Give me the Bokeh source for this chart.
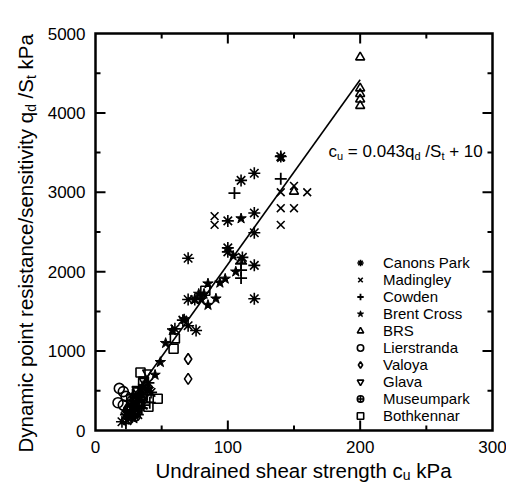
import numpy as np
from bokeh.plotting import figure
from bokeh.models import Range1d, Legend, LegendItem, Label
from bokeh.core.properties import value
from bokeh.embed import file_html
from bokeh.resources import INLINE

# ---------------- data ----------------
x_lim = [0, 300]
y_lim = [0, 5000]
x_ticks = [0, 100, 200, 300]
x_minor = [50, 150, 250]
x_tick_labels = ["0", "100", "200", "300"]
y_ticks = [0, 1000, 2000, 3000, 4000, 5000]
y_minor = [500, 1500, 2500, 3500, 4500]
y_tick_labels = ["0", "1000", "2000", "3000", "4000", "5000"]

canons_cu = [20, 23, 25, 27, 28, 30, 30, 32, 33, 35, 36, 38, 40, 42, 60, 66, 70, 70, 75, 76, 70,
             100, 100, 110, 120, 120, 120, 111, 120, 120, 140, 100]
canons_q = [110, 200, 150, 180, 250, 300, 420, 200, 380, 450, 320, 520, 600, 480, 1280, 1390, 1650, 2170, 1650, 1260, 1320,
            2300, 2640, 3150, 3240, 2740, 2490, 2180, 2080, 1660, 3450, 2250]

madingley_cu = [22, 24, 26, 29, 31, 34, 37, 90, 90, 140, 140, 140, 150, 150, 160]
madingley_q = [180, 120, 200, 330, 260, 500, 400, 2700, 2590, 3000, 2800, 2590, 2800, 3080, 3000]

cowden_cu = [23, 27, 28, 31, 35, 39, 41, 105, 140, 110, 110, 110]
cowden_q = [90, 300, 450, 360, 280, 450, 350, 2990, 3170, 2020, 1920, 2100]

brent_cu = [24, 29, 33, 36, 40, 45, 49, 53, 58, 67, 80, 82, 85, 85, 91, 94, 98, 104, 106, 110, 140, 75, 78]
brent_q = [230, 150, 440, 560, 520, 700, 860, 1100, 1260, 1400, 1650, 1720, 1850, 1580, 1660, 1860, 1910, 2200, 2000,
           2670, 3440, 1650, 1720]

brs_cu = [200, 200, 200, 200, 200, 150, 110, 30, 34, 38]
brs_q = [4700, 4310, 4240, 4170, 4090, 3010, 2140, 380, 320, 580]

lier_cu = [18, 21, 17, 21, 23]
lier_q = [530, 490, 350, 320, 430]

valoya_cu = [70, 70, 24, 38]
valoya_q = [900, 650, 280, 470]

glava_cu = [39, 36, 31]
glava_q = [730, 640, 520]

museum_cu = [26, 30, 32, 35, 28]
museum_q = [260, 180, 310, 420, 380]

both_cu = [34, 47, 40, 32, 36, 27, 30, 59, 60, 83]
both_q = [730, 400, 300, 480, 600, 400, 250, 1030, 1160, 1760]

fit_cu = np.array([20.0, 200.0])          # c_u = 0.043 q_d/S_t + 10
fit_slope, fit_icpt = 0.043, 10.0

series_names = ["Canons Park", "Madingley", "Cowden", "Brent Cross", "BRS",
                "Lierstranda", "Valoya", "Glava", "Museumpark", "Bothkennar"]

# ---------------- geometry (canvas pixels) ----------------
W, H = 506, 484
PX0, PX1, PYB, PYT = 95, 492, 430, 33    # axes box in canvas pixels
SX = (PX1 - PX0) / (x_lim[1] - x_lim[0])
SY = (PYB - PYT) / (y_lim[1] - y_lim[0])
xr = Range1d(x_lim[0] - PX0 / SX, x_lim[1] + (W - PX1) / SX)
yr = Range1d(y_lim[0] - (H - PYB) / SY, y_lim[1] + PYT / SY)

p = figure(width=W, height=H, output_backend="svg", toolbar_location=None,
           x_range=xr, y_range=yr, x_axis_type=None, y_axis_type=None,
           min_border_left=0, min_border_right=0, min_border_top=0, min_border_bottom=0,
           background_fill_color="white", border_fill_color="white")
p.outline_line_color = None
p.xgrid.visible = False
p.ygrid.visible = False

# ---------------- axes box and inward ticks ----------------
MAJ, MIN = 10, 5       # tick lengths in px
p.quad(left=[x_lim[0]], right=[x_lim[1]], bottom=[y_lim[0]], top=[y_lim[1]],
       fill_color=None, line_color="black", line_width=2.5, line_join="miter")


def hticks(xs, length):
    n = len(xs)
    p.segment(x0=xs, y0=[y_lim[0]] * n, x1=xs, y1=[y_lim[0] + length / SY] * n,
              line_color="black", line_width=2)
    p.segment(x0=xs, y0=[y_lim[1]] * n, x1=xs, y1=[y_lim[1] - length / SY] * n,
              line_color="black", line_width=2)


def vticks(ys, length):
    n = len(ys)
    p.segment(x0=[x_lim[0]] * n, y0=ys, x1=[x_lim[0] + length / SX] * n, y1=ys,
              line_color="black", line_width=2)
    p.segment(x0=[x_lim[1]] * n, y0=ys, x1=[x_lim[1] - length / SX] * n, y1=ys,
              line_color="black", line_width=2)


hticks(x_ticks[1:-1], MAJ)
hticks(x_minor, MIN)
vticks(y_ticks[1:-1], MAJ)
vticks(y_minor, MIN)

# tick labels
p.text(x=x_ticks, y=[y_lim[0]] * len(x_ticks), text=x_tick_labels, y_offset=10,
       text_align="center", text_baseline="top", text_font=value("Liberation Sans"),
       text_font_size="17px", text_color="black")
p.text(x=[x_lim[0]] * len(y_ticks), y=y_ticks, text=y_tick_labels, x_offset=-10,
       text_align="right", text_baseline="middle", text_font=value("Liberation Sans"),
       text_font_size="17px", text_color="black")

# fit line
p.line(fit_cu, (fit_cu - fit_icpt) / fit_slope, line_color="black", line_width=1.6)

styles = {
    "Canons Park": dict(marker="asterisk", size=12, line_width=1.6, fill_color=None),
    "Madingley": dict(marker="x", size=11, line_width=1.6, fill_color=None),
    "Cowden": dict(marker="cross", size=12, line_width=1.8, fill_color=None),
    "Brent Cross": dict(marker="star", size=11, line_width=1.0, fill_color="black"),
    "BRS": dict(marker="triangle", size=9, line_width=1.6, fill_color=None),
    "Lierstranda": dict(marker="circle", size=10, line_width=1.6, fill_color=None),
    "Valoya": dict(marker="diamond", size=11, line_width=1.6, fill_color=None),
    "Glava": dict(marker="inverted_triangle", size=9, line_width=1.6, fill_color=None),
    "Museumpark": dict(marker="circle_cross", size=10, line_width=1.6, fill_color=None),
    "Bothkennar": dict(marker="square", size=9, line_width=1.6, fill_color=None),
}
data = {
    "Canons Park": (canons_cu, canons_q), "Madingley": (madingley_cu, madingley_q),
    "Cowden": (cowden_cu, cowden_q), "Brent Cross": (brent_cu, brent_q), "BRS": (brs_cu, brs_q),
    "Lierstranda": (lier_cu, lier_q), "Valoya": (valoya_cu, valoya_q), "Glava": (glava_cu, glava_q),
    "Museumpark": (museum_cu, museum_q), "Bothkennar": (both_cu, both_q),
}

items = []
for name in series_names:
    cu, q = data[name]
    r = p.scatter(cu, q, line_color="black", **styles[name])
    items.append(LegendItem(label=name, renderers=[r]))

ROW = 17
legend = Legend(items=items, location=(352, int(round(H - (262 - ROW / 2 + 10 * ROW)))),
                orientation="vertical",
                glyph_width=16, glyph_height=ROW, label_height=ROW, label_width=10,
                spacing=0, padding=0, margin=0, label_standoff=15,
                border_line_color=None, background_fill_alpha=0,
                label_text_font="Liberation Sans", label_text_font_size="15px",
                label_text_color="black")
p.add_layout(legend)

# ---------------- texts with subscripts (canvas pixel positions -> data) ----------------
AW = {' ': 278, '/': 278, '.': 278, '=': 584, '+': 584, 'D': 722, 'S': 667, 'P': 667, 'U': 722,
      'a': 556, 'b': 556, 'c': 500, 'd': 556, 'e': 556, 'f': 278, 'g': 556, 'h': 556, 'i': 222,
      'k': 500, 'l': 222, 'm': 833, 'n': 556, 'o': 556, 'p': 556, 'q': 556, 'r': 333, 's': 500,
      't': 278, 'u': 556, 'v': 500, 'w': 722, 'x': 500, 'y': 500}
for d_ in "0123456789":
    AW[d_] = 556


def tw(s, size):
    return sum(AW.get(ch, 556) for ch in s) / 1000.0 * size


def put(text, cx, cy, size, angle=0.0):
    p.add_layout(Label(x=x_lim[0] + (cx - PX0) / SX, y=y_lim[0] + (PYB - cy) / SY, text=text, angle=angle,
                       text_font="Liberation Sans", text_font_size=f"{size}px",
                       text_color="black", text_align="left", text_baseline="alphabetic"))


def chain_h(pieces, x0, base, big, small, drop):
    x = x0
    for s, sub in pieces:
        size = small if sub else big
        lead = len(s) - len(s.lstrip(' '))
        x += tw(' ' * lead, size)
        s = s.lstrip(' ')
        put(s, x, base + (drop if sub else 0), size)
        x += tw(s, size)


def chain_v(pieces, y0, base, big, small, drop):
    y = y0
    for s, sub in pieces:
        size = small if sub else big
        lead = len(s) - len(s.lstrip(' '))
        y -= tw(' ' * lead, size)
        s = s.lstrip(' ')
        put(s, base + (drop if sub else 0), y, size, angle=np.pi / 2)
        y -= tw(s, size)


# equation
chain_h([("c", False), ("u", True), (" = 0.043q", False), ("d", True), (" /S", False),
         ("t", True), (" + 10", False)], 328, 151, 17, 11, 4)
# x axis title
chain_h([("Undrained shear strength c", False), ("u", True), (" kPa", False)], 155, 470, 20.5, 14, 4)
# y axis title
chain_v([("Dynamic point resistance/sensitivity q", False), ("d", True), (" /S", False),
         ("t", True), (" kPa", False)], 452, 25, 20.5, 14, 5)

open("out.html", "w").write(file_html(p, INLINE))
